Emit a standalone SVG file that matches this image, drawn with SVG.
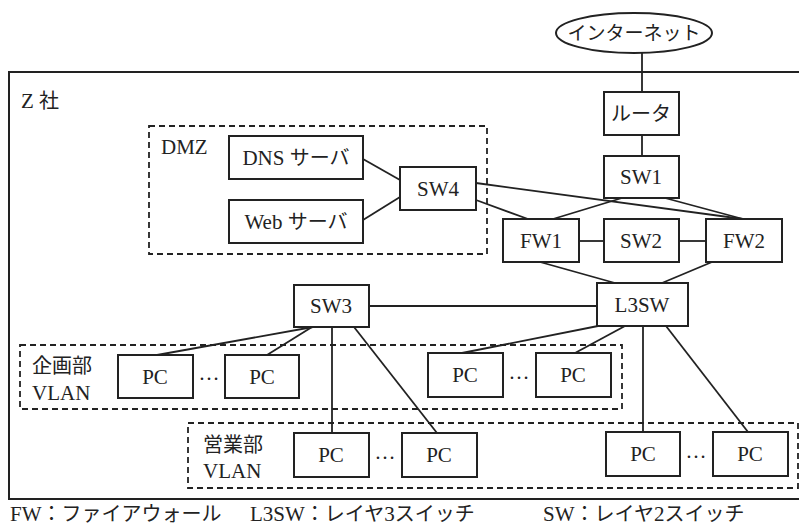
<svg xmlns="http://www.w3.org/2000/svg" width="799" height="529" viewBox="0 0 799 529">
<style>
.b{fill:#fff;stroke:#222;stroke-width:2}
.d{fill:none;stroke:#222;stroke-width:1.8;stroke-dasharray:6,4}
.c line{stroke:#222;stroke-width:1.8}
text{font-family:"Liberation Serif","Noto Sans CJK JP",serif;font-size:21px;fill:#222}
.m{text-anchor:middle}
.j{font-family:"Noto Sans CJK JP","Noto Sans CJK SC",sans-serif;font-size:20px}
</style>
<rect width="799" height="529" fill="#fff"/>
<g id="zsha">
<path d="M805,72 H9 V499 H805" fill="none" stroke="#222" stroke-width="2"/>
<text x="21" y="108">Z <tspan class="j">社</tspan></text>
</g>
<g id="dmz"><rect class="d" x="149" y="126" width="338" height="128"/><text x="161" y="154">DMZ</text></g>
<g id="kikaku"><rect class="d" x="20" y="345" width="602" height="64"/><text x="32" y="373" class="j">企画部</text><text x="32" y="400">VLAN</text></g>
<g id="eigyo"><rect class="d" x="188" y="423" width="610" height="65"/><text x="203" y="452" class="j">営業部</text><text x="203" y="478">VLAN</text></g>
<g class="c" id="connectors">
<line x1="642" y1="53" x2="642" y2="92"/>
<line x1="642" y1="135" x2="642" y2="156"/>
<line x1="622" y1="198" x2="553" y2="219"/>
<line x1="665" y1="198" x2="743" y2="219"/>
<line x1="476" y1="200" x2="528" y2="219"/>
<line x1="476" y1="183" x2="743" y2="219"/>
<line x1="363" y1="159" x2="400" y2="180"/>
<line x1="363" y1="220" x2="400" y2="197"/>
<line x1="579" y1="241" x2="604" y2="241"/>
<line x1="679" y1="241" x2="706" y2="241"/>
<line x1="540" y1="262" x2="615" y2="283"/>
<line x1="712" y1="262" x2="662" y2="283"/>
<line x1="369" y1="306" x2="597" y2="306"/>
<line x1="313" y1="327" x2="157" y2="355"/>
<line x1="312" y1="327" x2="267" y2="355"/>
<line x1="332" y1="327" x2="332" y2="433"/>
<line x1="354" y1="327" x2="437" y2="433"/>
<line x1="598" y1="326" x2="462" y2="353"/>
<line x1="625" y1="326" x2="575" y2="353"/>
<line x1="643" y1="326" x2="643" y2="432"/>
<line x1="666" y1="326" x2="748" y2="432"/>
</g>
<g id="internet"><ellipse cx="634" cy="33" rx="78" ry="20" class="b"/><text x="634" y="40" class="m j" style="font-size:19px">インターネット</text></g>
<g id="router"><rect class="b" x="604" y="92" width="75" height="43"/><text x="641" y="121" class="m j">ルータ</text></g>
<g id="sw1"><rect class="b" x="604" y="156" width="75" height="42"/><text x="641" y="184" class="m">SW1</text></g>
<g id="sw4"><rect class="b" x="400" y="167" width="76" height="43"/><text x="438" y="196" class="m">SW4</text></g>
<g id="dns"><rect class="b" x="229" y="136" width="134" height="43"/><text x="296" y="165" class="m">DNS <tspan class="j">サーバ</tspan></text></g>
<g id="web"><rect class="b" x="229" y="200" width="134" height="43"/><text x="296" y="229" class="m">Web <tspan class="j">サーバ</tspan></text></g>
<g id="fw1"><rect class="b" x="503" y="219" width="76" height="43"/><text x="541" y="248" class="m">FW1</text></g>
<g id="sw2"><rect class="b" x="604" y="219" width="75" height="43"/><text x="641" y="248" class="m">SW2</text></g>
<g id="fw2"><rect class="b" x="706" y="219" width="76" height="43"/><text x="744" y="248" class="m">FW2</text></g>
<g id="sw3"><rect class="b" x="294" y="285" width="75" height="42"/><text x="331" y="313" class="m">SW3</text></g>
<g id="l3sw"><rect class="b" x="597" y="283" width="91" height="43"/><text x="642" y="312" class="m">L3SW</text></g>
<g id="pc1"><rect class="b" x="118" y="355" width="75" height="43"/><text x="155" y="384" class="m">PC</text></g>
<text x="209" y="380" class="m">…</text>
<g id="pc2"><rect class="b" x="225" y="355" width="74" height="43"/><text x="262" y="384" class="m">PC</text></g>
<g id="pc3"><rect class="b" x="428" y="353" width="75" height="44"/><text x="465" y="382" class="m">PC</text></g>
<text x="519" y="379" class="m">…</text>
<g id="pc4"><rect class="b" x="536" y="353" width="75" height="44"/><text x="573" y="382" class="m">PC</text></g>
<g id="pc5"><rect class="b" x="294" y="433" width="75" height="44"/><text x="331" y="462" class="m">PC</text></g>
<text x="385" y="459" class="m">…</text>
<g id="pc6"><rect class="b" x="402" y="433" width="75" height="44"/><text x="439" y="462" class="m">PC</text></g>
<g id="pc7"><rect class="b" x="606" y="432" width="74" height="44"/><text x="643" y="461" class="m">PC</text></g>
<text x="696" y="458" class="m">…</text>
<g id="pc8"><rect class="b" x="713" y="432" width="75" height="44"/><text x="750" y="461" class="m">PC</text></g>
<g id="legend">
<text x="10" y="521">FW<tspan class="j">：ファイアウォール</tspan></text>
<text x="250" y="521">L3SW<tspan class="j">：レイヤ</tspan>3<tspan class="j">スイッチ</tspan></text>
<text x="543" y="521">SW<tspan class="j">：レイヤ</tspan>2<tspan class="j">スイッチ</tspan></text>
</g>
</svg>
